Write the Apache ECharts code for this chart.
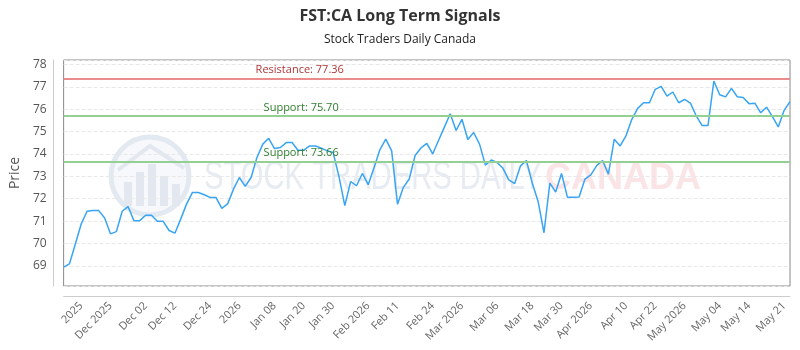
<!DOCTYPE html>
<html>
<head>
<meta charset="utf-8">
<script src="https://cdn.jsdelivr.net/npm/echarts@6/dist/echarts.min.js"></script>
<style>
html,body{margin:0;padding:0;background:#fff;}
#chart{width:800px;height:350px;}
</style>
</head>
<body>
<div id="chart"></div>
<script>
// ---- data ----
const titleText = 'FST:CA Long Term Signals';
const subtitleText = 'Stock Traders Daily Canada';
const tickLabels = ['2025','Dec 2025','Dec 02','Dec 12','Dec 24','2026','Jan 08','Jan 20','Jan 30','Feb 2026','Feb 11','Feb 24','Mar 2026','Mar 06','Mar 18','Mar 30','Apr 2026','Apr 10','Apr 22','May 2026','May 04','May 14','May 21'];
const tickIndex = [3,8,14,19,25,30,36,41,46,52,57,63,68,74,80,85,90,96,101,106,112,117,123];
const prices = [
  68.94,69.09,69.98,70.87,71.44,71.47,71.47,71.14,70.43,70.53,
  71.44,71.65,71.02,71.02,71.26,71.26,70.99,70.99,70.58,70.46,
  71.10,71.77,72.28,72.28,72.18,72.06,72.06,71.57,71.77,72.43,
  72.95,72.55,72.95,73.84,74.44,74.70,74.24,74.29,74.51,74.51,
  74.17,74.17,74.36,74.36,74.26,74.14,74.07,73.00,71.69,72.77,
  72.58,73.13,72.63,73.40,74.20,74.66,74.14,71.75,72.51,72.88,
  73.93,74.27,74.47,74.00,74.60,75.20,75.80,75.05,75.55,74.65,
  74.96,74.44,73.50,73.73,73.62,73.36,72.84,72.68,73.47,73.71,
  72.70,71.88,70.48,72.70,72.30,73.13,72.07,72.07,72.08,72.88,
  73.07,73.48,73.71,73.10,74.66,74.36,74.81,75.55,76.04,76.29,
  76.29,76.89,77.02,76.59,76.77,76.29,76.44,76.27,75.70,75.27,
  75.27,77.26,76.65,76.55,76.93,76.56,76.52,76.25,76.27,75.84,
  76.09,75.67,75.21,75.95,76.34
];
const resistance = 77.36;
const supports = [75.70, 73.66];
const yMin = 68.1, yMax = 78.2;

const categories = prices.map((_, i) => String(i));

const chart = echarts.init(document.getElementById('chart'), null, {renderer: 'canvas'});
const font = 'Open Sans, Liberation Sans, sans-serif';

const markData = [
  {
    yAxis: resistance,
    lineStyle: {color: '#ea8c8c', width: 2, type: 'solid'},
    label: {show: true, formatter: 'Resistance: ' + resistance.toFixed(2), position: 'insideStartTop',
            distance: [192, 3], color: '#b03636', fontSize: 11, fontFamily: font}
  }
].concat(supports.map(s => ({
    yAxis: s,
    lineStyle: {color: '#94cf94', width: 2, type: 'solid'},
    label: {show: true, formatter: 'Support: ' + s.toFixed(2), position: 'insideStartTop',
            distance: [200, 3], color: '#2f7f2f', fontSize: 11, fontFamily: font}
})));

const option = {
  animation: false,
  backgroundColor: '#ffffff',
  textStyle: {fontFamily: font},
  title: {
    text: titleText,
    subtext: subtitleText,
    left: 'center',
    top: 3,
    itemGap: 10,
    textStyle: {fontSize: 16, fontWeight: 'bold', color: '#333', fontFamily: font},
    subtextStyle: {fontSize: 12, color: '#222', fontFamily: font}
  },
  graphic: [
    {
      type: 'group', silent: true, z: 0,
      children: [
        {type: 'circle', shape: {cx: 150, cy: 176, r: 39}, style: {fill: '#f6f8fb', stroke: '#e3e9f1', lineWidth: 5}, z: 0},
        {type: 'rect', shape: {x: 124, y: 182, width: 8, height: 24}, style: {fill: '#e3e8f0'}, z: 0},
        {type: 'rect', shape: {x: 136, y: 172, width: 8, height: 34}, style: {fill: '#e3e8f0'}, z: 0},
        {type: 'rect', shape: {x: 148, y: 164, width: 8, height: 42}, style: {fill: '#e3e8f0'}, z: 0},
        {type: 'rect', shape: {x: 160, y: 176, width: 8, height: 30}, style: {fill: '#e3e8f0'}, z: 0},
        {type: 'rect', shape: {x: 172, y: 184, width: 8, height: 22}, style: {fill: '#e3e8f0'}, z: 0},
        {type: 'polyline', shape: {points: [[118, 170], [150, 146], [184, 168]]}, style: {stroke: '#e3e8f0', lineWidth: 4, fill: null}, z: 0},
        {type: 'text', x: 204, y: 178, scaleX: 0.73, scaleY: 1,
         style: {text: 'STOCK TRADERS DAILY', fontSize: 40, fontFamily: 'Liberation Sans, sans-serif', fill: '#e7ecf2', verticalAlign: 'middle', align: 'left'}, z: 0},
        {type: 'text', x: 545, y: 179,
         style: {text: 'CANADA', fontSize: 36, fontWeight: 'bold', fontFamily: 'Liberation Sans, sans-serif', fill: '#fbe4e6', verticalAlign: 'middle', align: 'left'}, z: 0}
      ]
    }
  ],
  grid: {
    left: 60, right: 10, top: 60, bottom: 64,
    show: true, borderColor: '#888', borderWidth: 1, backgroundColor: 'transparent'
  },
  xAxis: {
    type: 'category',
    data: categories,
    boundaryGap: false,
    offset: 10,
    axisLine: {show: true, lineStyle: {color: '#ccc'}},
    axisTick: {show: false},
    splitLine: {show: false},
    axisLabel: {
      rotate: 45,
      margin: 8,
      color: '#666',
      fontSize: 11,
      fontFamily: font,
      interval: (i) => tickIndex.indexOf(i) >= 0,
      formatter: (v, i) => { const k = tickIndex.indexOf(i); return k >= 0 ? tickLabels[k] : ''; }
    }
  },
  yAxis: {
    type: 'value',
    min: yMin,
    max: yMax,
    minInterval: 1,
    maxInterval: 1,
    offset: 10,
    name: 'Price',
    nameLocation: 'middle',
    nameGap: 28,
    nameTextStyle: {fontSize: 14, color: '#555', fontFamily: font},
    axisLine: {show: true, lineStyle: {color: '#ccc'}},
    axisTick: {show: false},
    axisLabel: {color: '#555', fontSize: 12, margin: 7, fontFamily: font,
      formatter: (v) => (Math.abs(v - Math.round(v)) < 1e-6 ? String(Math.round(v)) : '')},
    splitLine: {show: true, lineStyle: {color: '#e8e8e8', type: 'dashed'}}
  },
  series: [
    {
      type: 'line',
      data: prices,
      symbol: 'none',
      showSymbol: false,
      z: 3,
      lineStyle: {color: '#38a4f4', width: 1.5},
      itemStyle: {color: '#38a4f4'},
      markLine: {
        symbol: 'none',
        silent: true,
        animation: false,
        data: markData
      }
    }
  ]
};
chart.setOption(option);
</script>
</body>
</html>
